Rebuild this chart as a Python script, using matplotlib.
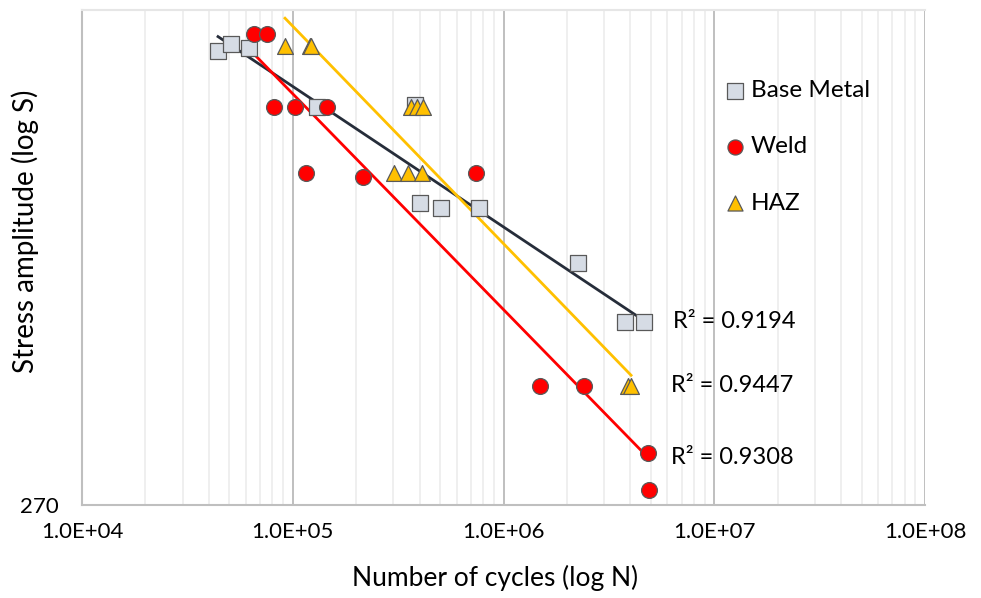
import numpy as np
import matplotlib
matplotlib.use("Agg")
import matplotlib.pyplot as plt
from matplotlib.ticker import LogLocator, NullFormatter, FixedLocator, FixedFormatter

plt.rcParams['font.family'] = ['Lato', 'DejaVu Sans']

# ---- data ----
base_N = [4.42e4, 5.09e4, 6.20e4, 1.30e5, 3.80e5, 4.02e5, 5.05e5, 7.65e5, 2.26e6, 3.77e6, 4.64e6]
base_S = [475, 479, 477, 443, 444, 393, 391, 391, 365, 339, 339]

weld_N = [6.55e4, 7.55e4, 8.15e4, 1.025e5, 1.454e5, 1.156e5, 2.154e5, 7.40e5, 1.49e6, 2.41e6, 4.85e6, 4.90e6]
weld_S = [485, 485, 443, 443, 443, 408, 406, 408, 313, 313, 288, 275]

haz_N = [9.19e4, 1.201e5, 1.221e5, 3.64e5, 3.89e5, 4.15e5, 3.02e5, 3.52e5, 4.11e5, 3.90e6, 4.03e6]
haz_S = [478, 478, 478, 443, 443, 443, 408, 408, 408, 313, 313]

series_names = ["Base Metal", "Weld", "HAZ"]
r2_labels = ["R² = 0.9194", "R² = 0.9447", "R² = 0.9308"]

x_ticks = [1e4, 1e5, 1e6, 1e7, 1e8]
x_ticklabels = ["1.0E+04", "1.0E+05", "1.0E+06", "1.0E+07", "1.0E+08"]
y_min, y_max = 270, 500
y_ticklabels = ["270"]

# ---- figure ----
fig = plt.figure(figsize=(9.81, 5.98), dpi=100)
ax = fig.add_axes([82/981, 1-505/598, (925-82)/981, (505-10)/598])
ax.set_xscale('log')
ax.set_yscale('log')
ax.set_xlim(1e4, 1e8)
ax.set_ylim(y_min, y_max)

# grid
ax.xaxis.set_major_locator(FixedLocator(x_ticks))
ax.xaxis.set_major_formatter(FixedFormatter(x_ticklabels))
ax.xaxis.set_minor_locator(LogLocator(base=10, subs=np.arange(2, 10)))
ax.xaxis.set_minor_formatter(NullFormatter())
ax.grid(True, which='major', axis='x', color='#b4b4b4', lw=1.2, zorder=0)
ax.grid(True, which='minor', axis='x', color='#ececec', lw=1.2, zorder=0)
ax.yaxis.set_major_locator(FixedLocator([y_min]))
ax.yaxis.set_major_formatter(FixedFormatter(y_ticklabels))
ax.yaxis.set_minor_locator(FixedLocator([]))
ax.tick_params(axis='both', which='both', length=0, labelsize=16, colors='black')
ax.tick_params(axis='x', pad=12)
ax.tick_params(axis='y', pad=17)
ax.set_axisbelow(True)

for s in ['left', 'bottom']:
    ax.spines[s].set_color('#bfbfbf')
    ax.spines[s].set_linewidth(1.5)
ax.spines['top'].set_color('#e6e6e6')
ax.spines['top'].set_linewidth(1.5)
ax.spines['right'].set_visible(False)

# trendlines (power fits)
line_colors = ['#262d3a', '#ff0000', '#ffc000']
datasets = [(base_N, base_S), (weld_N, weld_S), (haz_N, haz_S)]
for (N, S), c in zip(datasets, line_colors):
    lx, ly = np.log10(N), np.log10(S)
    b, a = np.polyfit(lx, ly, 1)
    xx = np.array([min(lx), max(lx)])
    ax.plot(10**xx, 10**(a + b*xx), color=c, lw=2.0, zorder=3)

# markers
ms = 130
h1 = ax.scatter(base_N, base_S, marker='s', s=ms, facecolor='#d6dce5', edgecolor='#595959', lw=0.9, zorder=4, label=series_names[0])
h2 = ax.scatter(weld_N, weld_S, marker='o', s=ms, facecolor='#ff0000', edgecolor='#595959', lw=0.9, zorder=4, label=series_names[1])
h3 = ax.scatter(haz_N, haz_S, marker='^', s=ms, facecolor='#ffc000', edgecolor='#595959', lw=0.9, zorder=4, label=series_names[2])

leg = ax.legend(handles=[h1, h2, h3], loc='upper left', bbox_to_anchor=(0.750, 0.878),
                frameon=False, fontsize=17.5, labelspacing=1.45, handletextpad=0.2,
                handlelength=0.9, scatterpoints=1, markerscale=0.95, borderaxespad=0)

# R² labels
r2_pos = [(0.701, (505-322)/495), (0.699, (505-385)/495), (0.699, (505-458)/495)]
for txt, (px, py) in zip(r2_labels, r2_pos):
    ax.text(px, py, txt, transform=ax.transAxes, fontsize=17, va='center', ha='left', color='black')

ax.set_xlabel("Number of cycles (log N)", fontsize=19)
ax.set_ylabel("Stress amplitude (log S)", fontsize=20)
ax.xaxis.set_label_coords((495-82)/843, -(578-505)/495)
ax.yaxis.set_label_coords((25-82)/843, (505-231)/495)
ax.xaxis.label.set_va('center')
ax.yaxis.label.set_va('center')

fig.savefig("out.png", dpi=100)
